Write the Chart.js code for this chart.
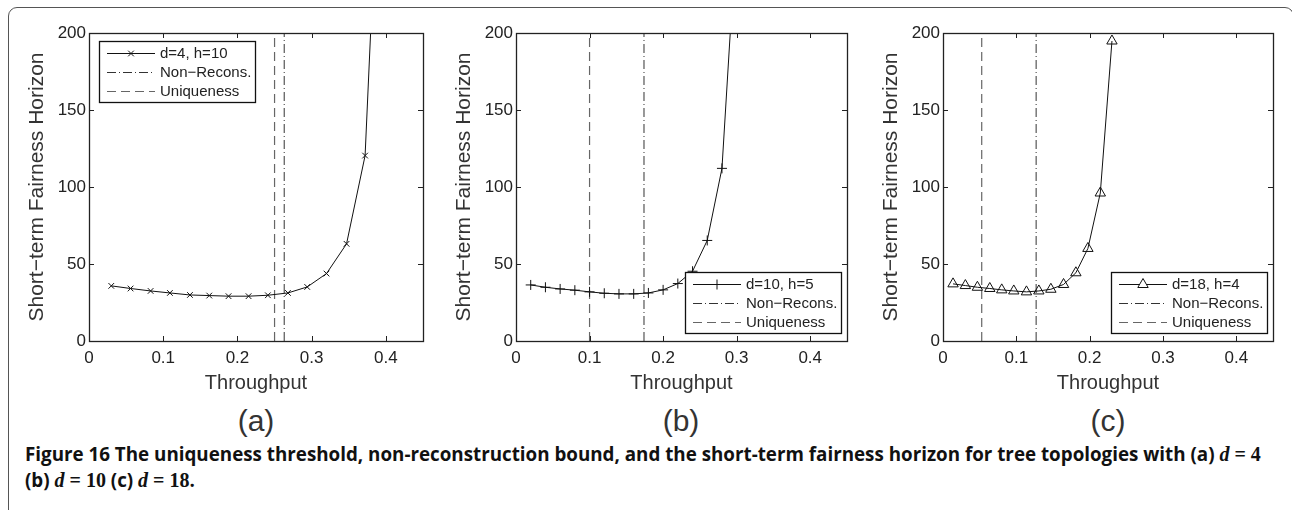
<!DOCTYPE html>
<html lang="en">
<head>
  <meta charset="UTF-8">
  <title>Figure 16</title>
  <script src="https://cdn.jsdelivr.net/npm/chart.js"></script>
  <style>
    body {
      margin: 0;
      background: #fff;
      font-family: "Liberation Sans", Arial, sans-serif;
    }
    #wrap {
      position: relative;
      width: 1292px;
      height: 510px;
      overflow: hidden;
      background: #fff;
    }
    #frame {
      position: absolute;
      left: 8px;
      top: 7px;
      width: 1284px;
      height: 560px;
      border: 1.5px solid #555;
      border-radius: 9px;
    }
    canvas { position: absolute; top: 0; }
    .sub {
      position: absolute;
      top: 404px;
      width: 120px;
      text-align: center;
      font-size: 30px;
      color: #333;
    }
    #caption {
      position: absolute;
      left: 25px;
      top: 441px;
      font-family: "Open Sans", sans-serif;
      font-weight: bold;
      font-size: 18.8px;
      line-height: 26px;
      white-space: nowrap;
      color: #111;
    }
    .m { font-family: "Liberation Serif", "DejaVu Serif", serif; font-weight: bold; font-size: 20px; }
    .m i { font-style: italic; }
  </style>
</head>
<body>
<div id="wrap">
  <div id="frame"></div>
  <canvas id="chartA" width="430" height="400" style="left:0px"></canvas>
  <canvas id="chartB" width="430" height="400" style="left:427px"></canvas>
  <canvas id="chartC" width="430" height="400" style="left:854px"></canvas>
  <div class="sub" style="left:196px">(a)</div>
  <div class="sub" style="left:621px">(b)</div>
  <div class="sub" style="left:1048px">(c)</div>
  <div id="caption">Figure 16 The uniqueness threshold, non-reconstruction bound, and the short-term fairness horizon for tree topologies with (a) <span class="m"><i>d</i> = 4</span><br>(b) <span class="m"><i>d</i> = 10</span> (c) <span class="m"><i>d</i> = 18</span>.</div>
</div>

<script>
  // values (last points of a and b run off the top)
  const xA = [0.030, 0.056, 0.083, 0.109, 0.136, 0.162, 0.188, 0.215, 0.241, 0.268, 0.294, 0.320, 0.347, 0.372, 0.398];
  const yA = [35.8, 34.1, 32.5, 31.2, 29.9, 29.5, 29.1, 29.1, 29.7, 31.2, 35.1, 43.8, 63.1, 120.4, 400];
  const xB = [0.02, 0.04, 0.06, 0.08, 0.10, 0.12, 0.14, 0.16, 0.18, 0.20, 0.22, 0.24, 0.26, 0.28, 0.30];
  const yB = [36.4, 34.9, 33.8, 33.0, 31.9, 31.0, 30.6, 30.6, 31.2, 33.2, 37.3, 45.3, 65.3, 112.1, 268];
  const xC = [0.0137, 0.0305, 0.0469, 0.0638, 0.0801, 0.0965, 0.1138, 0.1307, 0.1471, 0.1644, 0.1812, 0.1976, 0.2145, 0.2304];
  const yC = [37.1, 36.0, 34.9, 34.1, 33.2, 32.5, 31.9, 32.5, 33.6, 36.7, 44.3, 60.1, 96.1, 194.8];

  const seriesLabels = ["d=4, h=10", "d=10, h=5", "d=18, h=4"];
  const nonRecons = [0.263, 0.174, 0.127];
  const uniqueness = [0.25, 0.10, 0.0528];
  const xTicks = [0, 0.1, 0.2, 0.3, 0.4];
  const yTicks = [0, 50, 100, 150, 200];

  const pts = (xs, ys) => xs.map((x, i) => ({ x: x, y: ys[i] }));
  const vline = v => [{ x: v, y: 0 }, { x: v, y: 200 }];

  // MATLAB style box with inward ticks + legend inside the axes
  const boxPlugin = {
    id: 'boxPlugin',
    afterDatasetsDraw(chart, args, opts) {
      const { ctx, chartArea: a, scales } = chart;
      ctx.save();
      ctx.strokeStyle = '#222';
      ctx.lineWidth = 1;
      ctx.beginPath();
      xTicks.forEach(v => {
        const px = Math.round(scales.x.getPixelForValue(v)) + 0.5;
        ctx.moveTo(px, a.bottom); ctx.lineTo(px, a.bottom - 5);
        ctx.moveTo(px, a.top); ctx.lineTo(px, a.top + 5);
      });
      yTicks.forEach(v => {
        const py = Math.round(scales.y.getPixelForValue(v)) + 0.5;
        ctx.moveTo(a.left, py); ctx.lineTo(a.left + 5, py);
        ctx.moveTo(a.right, py); ctx.lineTo(a.right - 5, py);
      });
      ctx.stroke();
      ctx.lineWidth = 1.3;
      ctx.strokeRect(Math.round(a.left) + 0.5, Math.round(a.top) + 0.5,
                     Math.round(a.right - a.left), Math.round(a.bottom - a.top));

      // legend
      const w = 156, h = 61;
      const lx = opts.corner === 'tl' ? a.left + 10 : a.right - 6 - w;
      const ly = opts.corner === 'tl' ? a.top + 8 : a.bottom - 8 - h;
      ctx.fillStyle = '#fff';
      ctx.fillRect(lx, ly, w, h);
      ctx.strokeStyle = '#111';
      ctx.lineWidth = 1.3;
      ctx.strokeRect(lx + 0.5, ly + 0.5, w, h);
      ctx.font = '15px "Liberation Sans", Arial, sans-serif';
      ctx.textBaseline = 'middle';
      chart.data.datasets.forEach((ds, i) => {
        const ry = ly + 12 + i * 19;
        ctx.strokeStyle = ds.borderColor;
        ctx.lineWidth = 1;
        ctx.setLineDash(ds.borderDash || []);
        ctx.beginPath();
        ctx.moveTo(lx + 8, ry + 0.5);
        ctx.lineTo(lx + 56, ry + 0.5);
        ctx.stroke();
        ctx.setLineDash([]);
        if (ds.pointRadius > 0) {
          ctx.strokeStyle = ds.pointBorderColor;
          Chart.helpers.drawPoint(ctx, {
            pointStyle: ds.pointStyle, radius: ds.pointRadius, borderWidth: 1, rotation: 0
          }, lx + 32, ry + 0.5);
        }
        ctx.fillStyle = '#222';
        ctx.fillText(ds.label, lx + 61, ry + 1);
      });
      ctx.restore();
    }
  };

  function makeChart(id, data, idx, marker, radius, corner, padRight) {
    const ctx = document.getElementById(id).getContext('2d');
    return new Chart(ctx, {
      type: 'scatter',
      data: {
        datasets: [
          {
            label: seriesLabels[idx],
            data: data,
            showLine: true,
            borderColor: '#111',
            borderWidth: 1,
            pointStyle: marker,
            pointRadius: radius,
            pointBorderColor: '#111',
            pointBackgroundColor: 'rgba(0,0,0,0)',
            pointBorderWidth: 1
          },
          {
            label: 'Non\u2212Recons.',
            data: vline(nonRecons[idx]),
            showLine: true,
            borderColor: '#333',
            borderWidth: 1,
            borderDash: [9, 3, 1, 3],
            pointRadius: 0
          },
          {
            label: 'Uniqueness',
            data: vline(uniqueness[idx]),
            showLine: true,
            borderColor: '#666',
            borderWidth: 1.2,
            borderDash: [9, 5],
            pointRadius: 0
          }
        ]
      },
      options: {
        responsive: false,
        animation: false,
        layout: { padding: { top: 33, right: padRight, left: 0, bottom: 0 } },
        plugins: {
          legend: { display: false },
          tooltip: { enabled: false },
          boxPlugin: { corner: corner }
        },
        scales: {
          x: {
            type: 'linear',
            min: 0, max: 0.45,
            grid: { display: false, drawTicks: false },
            border: { display: false },
            ticks: {
              stepSize: 0.1, includeBounds: false, autoSkip: false, maxRotation: 0,
              padding: 7, color: '#222',
              font: { family: '"Liberation Sans", Arial, sans-serif', size: 17 }
            },
            title: {
              display: true, text: 'Throughput', color: '#333',
              font: { family: '"Liberation Sans", Arial, sans-serif', size: 20 },
              padding: { top: 0, bottom: 5 }
            },
            afterFit: s => { s.height = 59; }
          },
          y: {
            min: 0, max: 200,
            grid: { display: false, drawTicks: false },
            border: { display: false },
            ticks: {
              stepSize: 50, padding: 3, color: '#222',
              font: { family: '"Liberation Sans", Arial, sans-serif', size: 17 }
            },
            title: {
              display: true, text: 'Short\u2212term Fairness Horizon', color: '#333',
              font: { family: '"Liberation Sans", Arial, sans-serif', size: 21 },
              padding: { top: 25, bottom: 0 }
            },
            afterFit: s => { s.width = 89; }
          }
        }
      },
      plugins: [boxPlugin]
    });
  }

  makeChart('chartA', pts(xA, yA), 0, 'crossRot', 4, 'tl', 7);
  makeChart('chartB', pts(xB, yB), 1, 'cross', 5, 'br', 10);
  makeChart('chartC', pts(xC, yC), 2, 'triangle', 6, 'br', 11);
</script>
</body>
</html>
